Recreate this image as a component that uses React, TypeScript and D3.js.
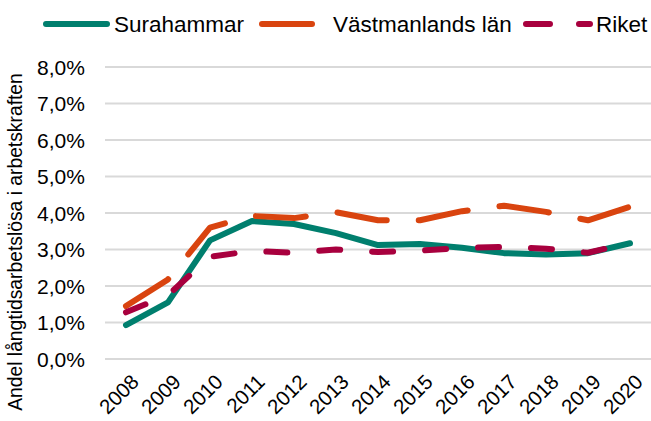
import React from 'react';
import * as d3 from 'd3';

const years = ['2008', '2009', '2010', '2011', '2012', '2013', '2014', '2015', '2016', '2017', '2018', '2019', '2020'];
const surahammar = [0.93, 1.55, 3.25, 3.78, 3.7, 3.45, 3.12, 3.15, 3.05, 2.9, 2.86, 2.9, 3.17];
const vastmanland = [1.45, 2.18, 3.6, 3.92, 3.86, 4.02, 3.8, 3.8, 4.05, 4.2, 4.03, 3.8, 4.17];
const riket = [1.28, 1.75, 2.8, 2.96, 2.91, 3.0, 2.93, 2.97, 3.04, 3.07, 3.02, 2.91, 3.18];
const yTicks = [0, 1, 2, 3, 4, 5, 6, 7, 8];
const seriesNames = ['Surahammar', 'Västmanlands län', 'Riket'];

const App = () => {
    const width = 651;
    const height = 421;
    const font = 'Liberation Sans, Arial, sans-serif';
    const colors = ['#007F6E', '#D9440F', '#A8003E'];
    const dashes = ['none', '50 32', '21 32'];

    const x = d3.scaleBand().domain(years).range([105, 651]);
    const y = d3.scaleLinear().domain([0, 8]).range([359, 67]);
    const cx = (yr: string) => (x(yr) ?? 0) + x.bandwidth() / 2;

    const line = d3.line<number>()
        .x((_, i) => cx(years[i]))
        .y(d => y(d));

    const series = [surahammar, vastmanland, riket];

    return (
        <svg width={width} height={height} style={{ display: 'block', position: 'absolute', left: 0, top: 0 }}
            fontFamily={font}>
            <rect width={width} height={height} fill="#ffffff" />

            {yTicks.map(t => (
                <g key={`t-${t}`}>
                    <line x1={105} x2={651} y1={y(t)} y2={y(t)} stroke="#D9D9D9" strokeWidth={2} />
                    <text x={85} y={y(t)} dy="0.36em" textAnchor="end" fontSize={21} fill="#000">
                        {t.toFixed(1).replace('.', ',')}%
                    </text>
                </g>
            ))}

            {years.map(yr => (
                <text key={yr} transform={`translate(${cx(yr) + 9}, ${378}) rotate(-45)`}
                    textAnchor="end" fontSize={20.5} fill="#000" dy="0.35em">
                    {yr}
                </text>
            ))}

            <text transform={`translate(22, 242) rotate(-90)`} textAnchor="middle" fontSize={19.3} fill="#000">
                Andel långtidsarbetslösa i arbetskraften
            </text>

            {series.map((s, i) => (
                <path key={`s-${i}`} d={line(s) ?? ''} fill="none" stroke={colors[i]} strokeWidth={6}
                    strokeDasharray={dashes[i]} strokeLinecap="round" strokeLinejoin="round" />
            ))}

            {/* legend */}
            <g fontSize={22.5}>
                <line x1={46} x2={107} y1={24} y2={24} stroke={colors[0]} strokeWidth={6} strokeLinecap="round" />
                <text x={114} y={24} dy="0.35em">{seriesNames[0]}</text>
                <line x1={262} x2={314} y1={24} y2={24} stroke={colors[1]} strokeWidth={6} strokeLinecap="round"
                    strokeDasharray={dashes[1]} />
                <text x={333} y={24} dy="0.35em">{seriesNames[1]}</text>
                <line x1={526} x2={590} y1={24} y2={24} stroke={colors[2]} strokeWidth={6} strokeLinecap="round"
                    strokeDasharray="24 29" />
                <text x={596} y={24} dy="0.35em">{seriesNames[2]}</text>
            </g>
        </svg>
    );
};

export default App;
